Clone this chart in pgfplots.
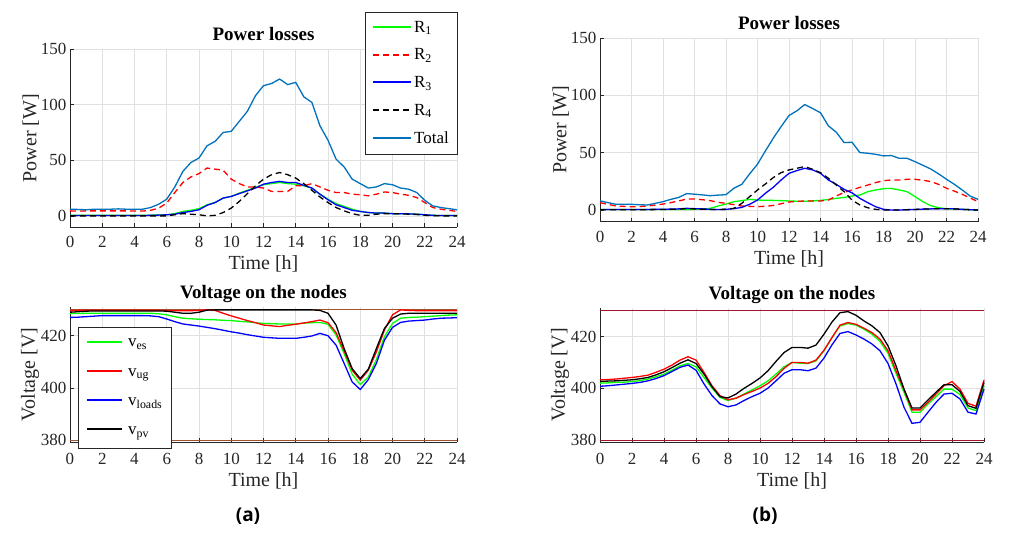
\documentclass[border=0pt]{standalone}
\usepackage{pgfplots}
\usepackage{pgfplotstable}
\pgfplotsset{compat=1.18}
\usepackage{fontspec}
\setmainfont{Liberation Serif}
\newfontfamily\capfont{Open Sans}
\definecolor{matblue}{rgb}{0,0.447,0.741}
\definecolor{limbrown}{rgb}{0.63,0.32,0.18}
\definecolor{limred}{rgb}{0.64,0.08,0.18}
\definecolor{axgray}{rgb}{0.15,0.15,0.15}
\definecolor{pgreen}{rgb}{0,1,0}
\definecolor{pblue}{rgb}{0,0,1}
\definecolor{pred}{rgb}{1,0,0}
\newcommand{\lsolid}[2]{\textcolor{#1}{\rule[0.26em]{#2}{2pt}}\hspace{3pt}}
\newcommand{\ldash}[1]{\textcolor{#1}{\rule[0.26em]{6pt}{2pt}\hspace{4pt}\rule[0.26em]{6pt}{2pt}\hspace{4pt}\rule[0.26em]{6pt}{2pt}\hspace{4pt}\rule[0.26em]{6pt}{2pt}}\hspace{5pt}}

\pgfplotstableread{
t R1 R2 R3 R4 Tot
0 0.5 4.5 0.3 0 6
0.5 0.5 4.3 0.3 0 5.8
1 0.5 4.5 0.3 0 5.5
1.5 0.5 4.5 0.3 0 6
2 0.5 4.5 0.3 0 6
2.5 0.5 4.5 0.3 0 6
3 0.5 4.5 0.3 0 6.3
3.5 0.5 4.5 0.3 0 6
4 0.5 4.3 0.3 0 6
4.5 0.5 4.3 0.3 0 6
5 0.6 5 0.5 0 7.5
5.5 0.8 7 0.7 0 10.5
6 1 11.5 1 0 15
6.5 2 21 1.5 1 26
7 4 30 3 2 40
7.5 5 35 4 1.5 48
8 6.5 38 5.5 1 52
8.5 10 43 9.5 0 63
9 12 42 12 0.5 67
9.5 16 41 16 3 75
10 17.5 33 17.5 7 76
10.5 20.5 29 20 13 85
11 23 26 22.5 20 94
11.5 25.5 26 25 27 108
12 28 25 28.5 33 117
12.5 29 22 30 37 119
13 30 22 31 39 123
13.5 29 22 30 37 118
14 28.5 27 30 34 120
14.5 27 27 27.5 29 107
15 25 29 25 23 102
15.5 19.5 26 19.5 17 81
16 15 23 14.5 12 68
16.5 11 21 10 7.5 51
17 8.5 21 7.5 4.5 44
17.5 6 19.5 5 2 33
18 4 19 4 0.5 29
18.5 3 18 3 0.5 25
19 2.5 19.5 2.5 1.5 26
19.5 2.5 21.5 2.5 2 29
20 2 21 2 2 28
20.5 2 19.5 2 2 25
21 1.8 18.5 1.8 1.5 24
21.5 1.5 16.5 1.5 1.2 21
22 1 12 1 0.5 14
22.5 0.5 7.5 0.5 0.2 9
23 0.3 6 0.3 0 7.5
23.5 0.3 5 0.3 0 6.5
24 0.3 4 0.3 0 5.5
}\powA

\pgfplotstableread{
t R1 R2 R3 R4 Tot
0 0.5 6.4 0.5 0.3 8
0.5 0.5 5 0.5 0.3 6.5
1 0.5 3.5 0.5 0.3 5
1.5 0.5 3.2 0.5 0.3 5
2 0.5 2.9 0.5 0.3 5
2.5 0.5 3 0.5 0.3 4.6
3 0.5 3.5 0.5 0.3 4.4
3.5 0.5 4.3 0.6 0.4 5.8
4 0.5 5.2 0.7 0.5 7.3
4.5 0.5 6.5 0.8 0.6 9.3
5 0.5 7.9 1 0.8 11
5.5 0.5 9.6 1.5 1.2 14.3
6 0.6 9.6 1.2 1 13.8
6.5 0.8 9 1 0.7 13.2
7 1.5 8.2 0.6 0.5 12.5
7.5 3.5 6.7 0.5 0.5 13
8 5.2 5.8 0.6 0.6 13.4
8.5 7.3 4.7 1.2 1.5 19
9 8.2 3.5 2.3 5.8 22.4
9.5 9.3 3.2 5 11.7 31.5
10 8.7 2.9 8.7 17.5 40
10.5 8.5 3.3 14.6 22.7 51.5
11 8.4 4 19.8 28.3 62.6
11.5 8.2 5.5 26.2 32.6 72.8
12 7.9 7 32 35 82.4
12.5 7.7 7.5 34.4 36.4 86.5
13 7.6 7.9 36.4 37.9 92
13.5 8 7.9 35 35.5 88.5
14 8.4 7.9 32 32.6 84.8
14.5 9.2 8.7 26.2 27.7 73.4
15 10.2 12.2 22.4 21.8 67.9
15.5 11 15.4 18 16 58.8
16 12.2 17.5 15 8.7 59.1
16.5 13.1 19.8 10.2 4.4 50.1
17 16 21.8 6.4 2 49.5
17.5 17.5 23.9 2.9 0.6 48.6
18 18.6 25.6 0.6 0 47.2
18.5 18.9 26.2 0 0 47.5
19 17.5 26.2 0 0 45.1
19.5 16 26.8 0.3 0.3 45.1
20 11.7 26.8 0.5 0.5 42.2
20.5 7.3 26 0.8 0.8 39
21 3.8 24.8 1 1 35.8
21.5 2 22.4 1.2 1.2 31.5
22 1.2 19 1.2 1.2 26.8
22.5 0.8 16.5 1 1 22.4
23 0.6 13.7 0.6 0.6 17.5
23.5 0.3 10.5 0.3 0.3 12.2
24 0 7.3 0 0 9.3
}\powB

\pgfplotstableread{
t es ug loads pv
0 428.5 429.6 427 429
0.5 428.5 429.7 427.1 429.2
1 428.6 429.7 427.3 429.4
1.5 428.6 429.7 427.5 429.5
2 428.6 429.7 427.7 429.5
2.5 428.6 429.7 427.7 429.5
3 428.6 429.7 427.7 429.5
3.5 428.6 429.7 427.7 429.5
4 428.6 429.7 427.7 429.5
4.5 428.6 429.7 427.7 429.5
5 428.6 429.7 427.6 429.5
5.5 428.4 429.7 427.3 429.5
6 428 429.6 426.4 429.4
6.5 427.3 429.6 425.4 429
7 426.7 429.6 424.5 428.6
7.5 426.5 429.6 424.1 428.6
8 426.3 429.7 423.7 429
8.5 426.2 429.9 423.2 429.8
9 426.1 429.7 422.7 429.9
9.5 425.9 428.6 422.1 429.9
10 425.8 427.6 421.5 429.9
10.5 425.5 426.7 421 429.9
11 425.3 425.8 420.4 429.9
11.5 425 425 419.9 429.9
12 424.7 424.1 419.4 429.9
12.5 424.6 423.8 419.2 429.9
13 424.5 423.5 419 429.9
13.5 424.5 424 419 429.9
14 424.5 424.4 419 429.9
14.5 424.8 424.9 419.4 429.9
15 425 425.4 419.9 429.9
15.5 425.1 426 420.9 429.7
16 424.4 425 420 428.6
16.5 420.3 421.2 416.4 424.1
17 413.2 414.2 409.4 415.1
17.5 405.3 406.8 402.3 407.4
18 401.3 403 399.4 403.6
18.5 404.2 406.8 403.2 407.2
19 410.9 413.8 409.4 415.1
19.5 419.6 422.2 418.3 422.8
20 424.7 428 423.2 426.7
20.5 426.7 429.9 425.1 428.3
21 427 429.7 425.6 428.6
21.5 427.1 429.6 425.8 428.6
22 427.3 429.6 426 428.6
22.5 427.5 429.6 426.4 428.6
23 427.7 429.6 426.7 428.6
23.5 427.9 429.6 426.8 428.6
24 428 429.6 426.9 428.6
}\volA

\pgfplotstableread{
t es ug loads pv
0 402 403.3 400.8 402.7
0.5 402.1 403.4 401 402.8
1 402.3 403.6 401.3 402.9
1.5 402.4 403.9 401.6 403.1
2 402.6 404.2 401.9 403.3
2.5 403 404.6 402.3 403.7
3 403.6 405.1 402.9 404.2
3.5 404.5 406.2 403.8 405.2
4 405.5 407.4 404.9 406.4
4.5 407 409 406.5 408
5 408.7 410.9 408.1 409.7
5.5 409.6 412.2 409 411
6 408.3 410.9 407 409.6
6.5 404.2 406.2 401.7 405.5
7 400.1 401 397.2 400.6
7.5 396.5 397.2 394 396.8
8 395.3 395.6 392.9 396.3
8.5 396.2 396.2 393.6 397.8
9 397.8 397.6 395.3 400
9.5 399.4 398.8 396.8 401.9
10 401 400.1 398.1 404
10.5 402.9 401.9 400.1 406.8
11 405.5 404.5 402.9 410.4
11.5 408.3 407.7 405.8 413.8
12 410 410 407.2 415.8
12.5 409.7 410 407.2 415.8
13 409.6 409.7 406.8 415.5
13.5 410.6 410.9 407.8 416.7
14 414.5 414.7 411.7 420.9
14.5 419.6 419.6 416.8 425.6
15 424.1 424.4 421.2 429.2
15.5 425 425.4 421.9 429.6
16 424.4 424.7 420.6 428.2
16.5 422.8 423.2 419 426
17 420.9 421.5 417.1 424.1
17.5 418.1 419 414.5 421.5
18 413.5 414.5 409.6 416.4
18.5 405.8 406.8 401.7 408.7
19 398.5 399.5 392.7 399.7
19.5 390.8 391.7 386.5 392.4
20 390.8 391.7 386.9 392.4
20.5 394 394.6 390.8 395.5
21 396.8 397.8 394.6 398.5
21.5 399.7 401 397.8 401.4
22 399.7 402.6 398.1 401.4
22.5 397.6 399.7 395.9 398.8
23 392.4 394.2 390.8 393.3
23.5 391.4 393.1 390.1 392.3
24 401 403.2 399.7 402.3
}\volB

\pgfplotsset{
  base/.style={
    scale only axis,
    xmin=0, xmax=24, xtick={0,2,...,24},
    grid=major, major grid style={black!12, line width=0.6pt},
    axis x line*=bottom, axis y line*=left,
    axis line style={axgray, line width=0.6pt},
    tick style={axgray, line width=0.6pt},
    tick align=inside, major tick length=4pt,
    ticklabel style={font=\fontsize{17}{17}\selectfont, text=axgray},
    xlabel style={font=\fontsize{20}{20}\selectfont, text=axgray, yshift=-1pt},
    ylabel style={font=\fontsize{20}{20}\selectfont, text=axgray, yshift=-5pt},
    title style={font=\bfseries\fontsize{19}{19}\selectfont, yshift=-1pt},
    /pgf/number format/assume math mode=true,
    every axis plot/.append style={line width=1.3pt},
    xlabel={Time [h]},
    clip=false,
  },
  powax/.style={base, ymin=-10, ymax=150, ytick={0,50,100,150}, ylabel={Power [W]}, title={Power losses},
    xticklabel style={yshift=-6pt}},
  volax/.style={base, ymin=379.3, ymax=431, ytick={380,400,420}, ylabel={Voltage [V]}, title={Voltage on the nodes},
    title style={yshift=-4pt}, xticklabel style={yshift=-8pt}},
  dsh/.style={dash pattern=on 6pt off 4pt},
}

\begin{document}
\begin{tikzpicture}
\path[use as bounding box] (0pt,0pt) rectangle (1009pt,-551pt);

% (a) power
\begin{axis}[powax, at={(70pt,-49pt)}, anchor=north west, width=387pt, height=178pt,
  legend style={at={(1,1.208)}, anchor=north east, draw=axgray,
    font=\fontsize{17}{17}\selectfont, row sep=11pt, inner xsep=6pt, inner ysep=7pt, cells={anchor=west}},
  legend image code/.code={}]
\addplot[color=pgreen, no marks] table[x=t,y=R1] {\powA};
\addplot[color=pred, dsh, no marks] table[x=t,y=R2] {\powA};
\addplot[color=pblue, no marks] table[x=t,y=R3] {\powA};
\addplot[color=black, dsh, no marks] table[x=t,y=R4] {\powA};
\addplot[color=matblue, no marks] table[x=t,y=Tot] {\powA};
\legend{\lsolid{pgreen}{38pt}R\textsubscript{1}, \ldash{pred}R\textsubscript{2}, \lsolid{pblue}{38pt}R\textsubscript{3}, \ldash{black}R\textsubscript{4}, \lsolid{matblue}{38pt}Total}
\end{axis}

% (b) power
\begin{axis}[powax, at={(600pt,-38pt)}, anchor=north west, width=378pt, height=183.5pt]
\addplot[color=pgreen, no marks] table[x=t,y=R1] {\powB};
\addplot[color=pred, dsh, no marks] table[x=t,y=R2] {\powB};
\addplot[color=pblue, no marks] table[x=t,y=R3] {\powB};
\addplot[color=black, dsh, no marks] table[x=t,y=R4] {\powB};
\addplot[color=matblue, no marks] table[x=t,y=Tot] {\powB};
\end{axis}

% (a) voltage
\begin{axis}[volax, at={(70pt,-307pt)}, anchor=north west, width=387pt, height=135pt,
  legend style={at={(0.0207,0.852)}, anchor=north west, draw=axgray,
    font=\fontsize{17}{17}\selectfont, row sep=16pt, inner xsep=7pt, inner ysep=10pt, cells={anchor=west}},
  legend image code/.code={}]
\addplot[limbrown, no marks, forget plot] coordinates {(0,430) (24,430)};
\addplot[limbrown, no marks, forget plot] coordinates {(0,380) (24,380)};
\addplot[color=pgreen, no marks] table[x=t,y=es] {\volA};
\addplot[color=pred, no marks] table[x=t,y=ug] {\volA};
\addplot[color=pblue, no marks] table[x=t,y=loads] {\volA};
\addplot[color=black, no marks] table[x=t,y=pv] {\volA};
\legend{\lsolid{pgreen}{35pt}\hspace{3pt}v\textsubscript{es}, \lsolid{pred}{35pt}\hspace{3pt}v\textsubscript{ug}, \lsolid{pblue}{35pt}\hspace{3pt}v\textsubscript{loads}, \lsolid{black}{35pt}\hspace{3pt}v\textsubscript{pv}}
\end{axis}

% (b) voltage
\begin{axis}[volax, at={(600pt,-308pt)}, anchor=north west, width=384pt, height=134pt]
\addplot[limred, no marks] coordinates {(0,430) (24,430)};
\addplot[limred, no marks] coordinates {(0,380) (24,380)};
\addplot[color=pgreen, no marks] table[x=t,y=es] {\volB};
\addplot[color=pred, no marks] table[x=t,y=ug] {\volB};
\addplot[color=pblue, no marks] table[x=t,y=loads] {\volB};
\addplot[color=black, no marks] table[x=t,y=pv] {\volB};
\end{axis}

\node[font=\capfont\bfseries\fontsize{19}{19}\selectfont] at (248pt,-516pt) {(a)};
\node[font=\capfont\bfseries\fontsize{19}{19}\selectfont] at (765pt,-516pt) {(b)};
\end{tikzpicture}
\end{document}
